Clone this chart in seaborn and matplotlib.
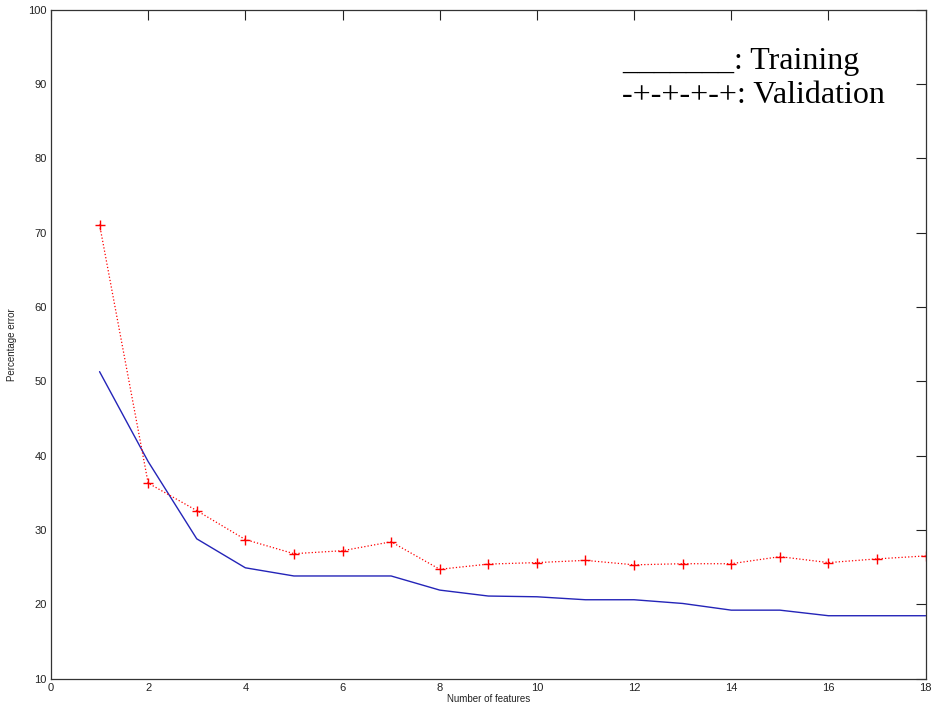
import numpy as np
import pandas as pd
import seaborn as sns
from matplotlib import pyplot as plt

# values
n_features = list(range(1, 19))
training = [51.3, 39.2, 28.8, 24.9, 23.8, 23.8, 23.8, 21.9, 21.1, 21.0,
            20.6, 20.6, 20.1, 19.2, 19.2, 18.45, 18.45, 18.45]
validation = [71.1, 36.3, 32.6, 28.7, 26.8, 27.2, 28.4, 24.7, 25.4, 25.6,
              25.9, 25.3, 25.45, 25.45, 26.4, 25.6, 26.1, 26.5]

df = pd.DataFrame({"features": n_features, "train": training, "val": validation})

sns.set_style("white")
plt.rcParams['font.family'] = ['Liberation Sans', 'DejaVu Sans']

fig = plt.figure(figsize=(9.35, 7.11), dpi=100)
ax = fig.add_axes([0.0545, 0.0457, 0.9355, 0.9405])

sns.lineplot(data=df, x="features", y="train", ax=ax, color="#2424b8", lw=1.0)
sns.lineplot(data=df, x="features", y="val", ax=ax, color="red", lw=0.9,
             linestyle=":", marker="+", markersize=7, markeredgewidth=1.0,
             markeredgecolor="red")

ax.set_xlim(0, 18)
ax.set_ylim(10, 100)
ax.set_xticks(range(0, 19, 2))
ax.set_yticks(range(10, 101, 10))
ax.tick_params(direction="in", length=7, width=0.8, top=True, right=True,
               labelsize=8, pad=3, colors="#222222")
for sp in ax.spines.values():
    sp.set_visible(True)
    sp.set_color("#333333")
    sp.set_linewidth(0.9)

ax.set_xlabel("Number of features", fontsize=7, labelpad=1, color="#222222")
ax.set_ylabel("Percentage error", fontsize=7, labelpad=8, color="#222222")

ax.text(0.653, 0.9115, "_______: Training", transform=ax.transAxes,
        fontsize=23, family="Liberation Serif", va="baseline", color="black")
ax.text(0.653, 0.8606, "-+-+-+-+: Validation", transform=ax.transAxes,
        fontsize=23, family="Liberation Serif", va="baseline", color="black")

fig.savefig("out.png", dpi=100, facecolor="white")
